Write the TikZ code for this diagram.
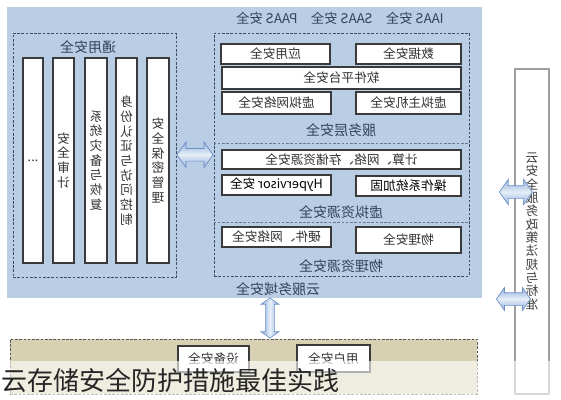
\documentclass[tikz,border=0pt]{standalone}
\usepackage{fontspec}
\setmainfont{Noto Sans CJK SC}
\usetikzlibrary{shapes.arrows,calc}
\definecolor{panelblue}{HTML}{B9CDE5}
\definecolor{dashc}{HTML}{3B4D66}
\definecolor{lblc}{HTML}{34445A}
\definecolor{boxedge}{HTML}{3A3A3A}
\definecolor{tanc}{HTML}{D7D0B2}
\definecolor{arrowmid}{HTML}{E6EEF8}
\definecolor{arrowedge}{HTML}{8FB0DC}
\definecolor{arrowline}{HTML}{6E90C4}
\newcommand\mybox[7]{%
  \node[#6, minimum width={(#4-#2)*0.75pt}, minimum height={(#5-#3)*0.75pt}] (#1) at ({(#2+#4)/2},{(#3+#5)/2}) {#7};}
\tikzset{
  wbox/.style={draw=boxedge, fill=white, line width=0.8pt, inner sep=0pt, xscale=-1,
    font=\fontsize{9.5}{11}\selectfont, text=black!80},
  vcol/.style={wbox, align=center, font=\fontsize{9.5}{11}\selectfont},
  lbl/.style={xscale=-1, text=lblc, font=\fontsize{10.5}{12}\selectfont, inner sep=0pt},
  dashbox/.style={draw=dashc, dash pattern=on 2pt off 1.2pt, line width=0.7pt, inner sep=0pt},
  sepline/.style={draw=dashc!75, dash pattern=on 2pt off 1.2pt, line width=0.6pt},
  harrow/.style={double arrow, double arrow tip angle=110, draw=arrowline, line width=0.5pt,
    top color=arrowedge, bottom color=arrowedge, middle color=arrowmid},
  varrow/.style={double arrow, double arrow tip angle=110, shape border rotate=90, draw=arrowline,
    line width=0.5pt, left color=arrowedge, right color=arrowedge, middle color=arrowmid}
}
\begin{document}
\begin{tikzpicture}[x=0.75pt,y=-0.75pt]
\useasboundingbox (0,0) rectangle (561,400);
% main panel
\mybox{panel}{7}{7}{482}{298}{fill=panelblue, inner sep=0pt}{}
\node[lbl, font=\fontsize{10}{12}\selectfont] (hdr) at (340,18) {IAAS 安全\quad SAAS 安全\quad PAAS 安全};
% general security
\mybox{gen}{13}{33}{176}{277}{dashbox}{}
\node[lbl] (genl) at (88,47) {通用安全};
\mybox{c1}{23}{58}{43}{263}{vcol}{...}
\mybox{c2}{53}{58}{74}{263}{vcol}{安\\全\\审\\计}
\mybox{c3}{85}{58}{107}{263}{vcol}{系\\统\\灾\\备\\与\\恢\\复}
\mybox{c4}{116}{58}{137}{263}{vcol}{身\\份\\认\\证\\与\\访\\问\\控\\制}
\mybox{c5}{147}{58}{169}{263}{vcol}{安\\全\\保\\密\\管\\理}
% service area
\mybox{svc}{214}{33}{469}{276}{dashbox}{}
\draw[sepline] (svc.west |- 0,143) -- (svc.east |- 0,143);
\draw[sepline] (svc.west |- 0,222) -- (svc.east |- 0,222);
\mybox{appsec}{221}{44}{330}{64}{wbox}{应用安全}
\mybox{datasec}{356}{44}{461}{64}{wbox}{数据安全}
\mybox{swplat}{222}{67}{461}{89}{wbox}{软件平台安全}
\mybox{vnet}{222}{92}{331}{114}{wbox}{虚拟网络安全}
\mybox{vhost}{356}{92}{461}{114}{wbox}{虚拟主机安全}
\node[lbl] (svl) at (341,130) {服务层安全};
\mybox{comp}{222}{150}{461}{169}{wbox}{计算、网络、存储资源安全}
\mybox{hyper}{222}{175}{331}{195}{wbox, text=black}{Hypervisor 安全}
\mybox{osh}{356}{176}{461}{196}{wbox, text=black}{操作系统加固}
\node[lbl] (vrl) at (341,212) {虚拟资源安全};
\mybox{hwnet}{222}{227}{331}{247}{wbox}{硬件、网络安全}
\mybox{phys}{356}{227}{461}{253}{wbox}{物理安全}
\node[lbl] (prl) at (341,266) {物理资源安全};
\node[lbl] (cdl) at (278,289) {云服务域安全};
% terminal area
\mybox{term}{10}{339}{477}{394}{draw=gray!70!black, dash pattern=on 2pt off 1.2pt, line width=0.6pt, fill=tanc, inner sep=0pt}{}
\mybox{dev}{178}{346}{249}{372}{wbox}{设备安全}
\mybox{usr}{297}{345}{370}{372}{wbox}{用户安全}
% standards
\mybox{std}{515}{69}{549}{394}{draw=gray!75, line width=0.8pt, fill=white, inner sep=0pt, xscale=-1, align=center, text=black!75, font=\fontsize{9.5}{10}\selectfont}{云\\安\\全\\服\\务\\政\\策\\法\\规\\与\\标\\准}
% arrows
\node[harrow, minimum height=27pt, inner sep=4.5pt, double arrow head extend=4.9pt] (la) at ($(gen.east)!0.5!(svc.west)$) {};
\node[harrow, minimum height=24.75pt, inner sep=4.5pt, double arrow head extend=4.9pt] (ra) at ($(panel.east)!0.5!(std.west)$ |- 0,148) {};
\node[varrow, minimum height=30pt, inner sep=3pt, double arrow head extend=3.4pt] (va) at (270,318) {};
\node[harrow, minimum height=25.5pt, inner sep=4.5pt, double arrow head extend=3.8pt] (ba) at ($(term.east)!0.5!(std.west)$ |- 0,372) {};
% fading band
\fill[white, opacity=0.6] (0,361) rectangle (561,398);
\node[anchor=base west, font=\fontsize{19.5}{20}\selectfont, text=black!85, inner sep=0pt] (title) at (1,390) {云存储安全防护措施最佳实践};
\end{tikzpicture}
\end{document}
